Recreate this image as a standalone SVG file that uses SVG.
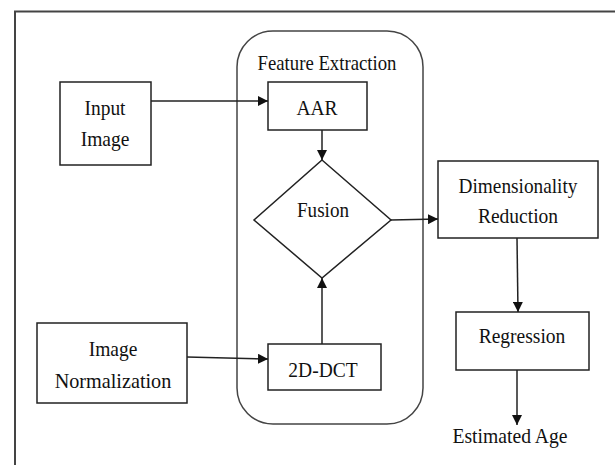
<svg xmlns="http://www.w3.org/2000/svg" width="615" height="465" viewBox="0 0 615 465">
<style>
  .box{fill:#fff;stroke:#222;stroke-width:1.5}
  .con{fill:none;stroke:#222;stroke-width:1.5}
  text{font-family:"Liberation Serif","Times New Roman",serif;font-size:22px;fill:#111;text-anchor:middle}
</style>
<defs>
  <marker id="ah" viewBox="0 0 10 10" refX="10" refY="5" markerWidth="10" markerHeight="10" markerUnits="userSpaceOnUse" orient="auto">
    <path d="M0,0 L10,5 L0,10 Z" fill="#111"/>
  </marker>
</defs>
<rect x="15" y="11.5" width="700" height="600" fill="#fff" stroke="#444" stroke-width="2"/>
<g id="feature-extraction">
  <rect x="237" y="31" width="186" height="393" rx="36" ry="36" fill="none" stroke="#444" stroke-width="1.5"/>
  <text x="327" y="70" style="font-size:21px" textLength="139" lengthAdjust="spacingAndGlyphs">Feature Extraction</text>
</g>
<g id="input-image">
  <rect class="box" x="60" y="82" width="91" height="83"/>
  <text x="105" y="115" textLength="41" lengthAdjust="spacingAndGlyphs">Input</text>
  <text x="105" y="146" textLength="48.7" lengthAdjust="spacingAndGlyphs">Image</text>
</g>
<g id="aar">
  <rect class="box" x="268" y="82" width="99" height="48"/>
  <text x="317" y="115" textLength="41.2" lengthAdjust="spacingAndGlyphs">AAR</text>
</g>
<g id="fusion">
  <polygon class="box" points="322,160 391,220 322,278 254,220"/>
  <text x="323" y="217" textLength="52" lengthAdjust="spacingAndGlyphs">Fusion</text>
</g>
<g id="image-normalization">
  <rect class="box" x="37" y="323" width="150" height="80"/>
  <text x="113" y="356" textLength="48.7" lengthAdjust="spacingAndGlyphs">Image</text>
  <text x="113" y="388" textLength="116.6" lengthAdjust="spacingAndGlyphs">Normalization</text>
</g>
<g id="dct">
  <rect class="box" x="268" y="344" width="113" height="46"/>
  <text x="323" y="377" textLength="69.3" lengthAdjust="spacingAndGlyphs">2D-DCT</text>
</g>
<g id="dimensionality-reduction">
  <rect class="box" x="438" y="161" width="160" height="77"/>
  <text x="518" y="193" textLength="119" lengthAdjust="spacingAndGlyphs">Dimensionality</text>
  <text x="518" y="223" textLength="80.2" lengthAdjust="spacingAndGlyphs">Reduction</text>
</g>
<g id="regression">
  <rect class="box" x="456" y="312" width="133" height="58"/>
  <text x="522" y="343" textLength="86.7" lengthAdjust="spacingAndGlyphs">Regression</text>
</g>
<g id="estimated-age">
  <text x="510" y="443" textLength="115" lengthAdjust="spacingAndGlyphs">Estimated Age</text>
</g>
<g id="connectors">
  <line class="con" x1="151" y1="101" x2="268" y2="101" marker-end="url(#ah)"/>
  <line class="con" x1="322" y1="130" x2="322" y2="160" marker-end="url(#ah)"/>
  <line class="con" x1="322" y1="344" x2="322" y2="278" marker-end="url(#ah)"/>
  <line class="con" x1="187" y1="357" x2="268" y2="359" marker-end="url(#ah)"/>
  <line class="con" x1="391" y1="220" x2="438" y2="219" marker-end="url(#ah)"/>
  <line class="con" x1="517" y1="238" x2="518" y2="312" marker-end="url(#ah)"/>
  <line class="con" x1="517" y1="370" x2="517" y2="425" marker-end="url(#ah)"/>
</g>
</svg>
